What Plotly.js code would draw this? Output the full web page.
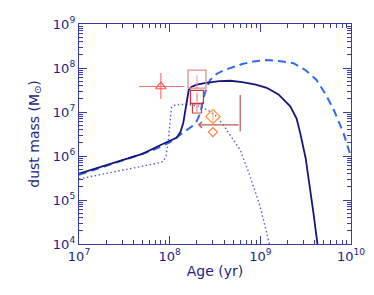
<!DOCTYPE html>
<html>
<head>
<meta charset="utf-8">
<script src="https://cdn.plot.ly/plotly-3.0.1.min.js"></script>
<style>html,body{margin:0;padding:0;background:#fff;}#chart{width:374px;height:295px;}</style>
</head>
<body>
<div id="chart"></div>
<script>
// Model curves: log10(age / yr) and log10(dust mass / Msun)
const solidLogAge  = [7.0, 7.3, 7.5, 7.7, 7.9, 8.0, 8.08, 8.12, 8.15, 8.17, 8.19, 8.21, 8.24, 8.3, 8.4, 8.55, 8.67, 8.8, 8.95, 9.07, 9.2, 9.33, 9.4, 9.44, 9.5, 9.53, 9.586, 9.63];
const solidLogMass = [5.60, 5.80, 5.92, 6.05, 6.25, 6.34, 6.42, 6.55, 6.75, 7.0, 7.28, 7.5, 7.57, 7.62, 7.66, 7.70, 7.71, 7.68, 7.62, 7.55, 7.40, 7.13, 6.85, 6.52, 5.95, 5.54, 4.70, 4.0];

const dashedLogAge  = [7.0, 7.3, 7.6, 7.8, 8.0, 8.15, 8.25, 8.30, 8.34, 8.37, 8.40, 8.447, 8.52, 8.6, 8.667, 8.8, 8.924, 9.07, 9.2, 9.365, 9.5, 9.62, 9.72, 9.81, 9.917, 10.0];
const dashedLogMass = [5.57, 5.78, 5.98, 6.12, 6.31, 6.52, 6.68, 6.80, 6.98, 7.3, 7.5, 7.73, 7.87, 7.95, 8.0, 8.09, 8.15, 8.18, 8.16, 8.11, 7.95, 7.73, 7.40, 7.05, 6.52, 5.98];

const dottedLogAge  = [7.0, 7.3, 7.6, 7.85, 7.93, 7.96, 7.986, 8.005, 8.02, 8.06, 8.1, 8.2, 8.336, 8.43, 8.52, 8.62, 8.70, 8.777, 8.887, 8.998, 9.10];
const dottedLogMass = [5.48, 5.60, 5.72, 5.83, 5.88, 6.0, 6.37, 6.85, 7.1, 7.16, 7.17, 7.17, 7.13, 7.03, 6.90, 6.62, 6.37, 6.14, 5.54, 4.85, 4.0];

// Observations
const triAge = [8e7], triMass = [3.8e7];
const triAgeErrPlus = [6.5e7], triAgeErrMinus = [3.4e7];
const triMassErrPlus = [3.9e7], triMassErrMinus = [1.83e7];

const bigSqAge = [2e8], bigSqMass = [5.6e7], bigSqErrPlus = [1.2e7], bigSqErrMinus = [2.2e7];
const midSqAge = [2e8], midSqMass = [2.2e7], midSqErrPlus = [5e6], midSqErrMinus = [5e6];
const smlSqAge = [2e8], smlSqMass = [1.2e7], smlSqErrPlus = [2e6], smlSqErrMinus = [2e6];

const bigDiaAge = [3e8], bigDiaMass = [7.9e6], bigDiaErrPlus = [2e6], bigDiaErrMinus = [2e6];
const smlDiaAge = [3e8], smlDiaMass = [3.5e6];

const limAge = 6e8, limAgeUpper = 2.05e8, limMass = 5.1e6;
const limBarMass = [2.45e7, 3.6e6];

const xTickVals = [1e7, 1e8, 1e9, 1e10];
const xTickText = ['10<sup>7</sup>', '10<sup>8</sup>', '10<sup>9</sup>', '10<sup>10</sup>'];
const yTickVals = [1e4, 1e5, 1e6, 1e7, 1e8, 1e9];
const yTickText = ['10<sup>4</sup>', '10<sup>5</sup>', '10<sup>6</sup>', '10<sup>7</sup>', '10<sup>8</sup>', '10<sup>9</sup>'];

const pow = a => a.map(v => Math.pow(10, v));
const minorVals = (lo, hi) => { const out = []; for (let e = lo; e < hi; e++) for (let m = 2; m <= 9; m++) out.push(m * Math.pow(10, e)); return out; };
const navy = '#1e1e85';
const axisCol = '#3a3aa8';

const traces = [
  {x: pow(dottedLogAge), y: pow(dottedLogMass), mode: 'lines', line: {color: '#5a5ad0', width: 1.4, dash: '1.5px,2.5px'}},
  {x: pow(dashedLogAge), y: pow(dashedLogMass), mode: 'lines', line: {color: '#2f6af0', width: 2, dash: '8px,5px'}},
  {x: pow(solidLogAge), y: pow(solidLogMass), mode: 'lines', line: {color: '#16167a', width: 1.8}},
  {x: triAge, y: triMass, mode: 'markers',
   marker: {symbol: 'triangle-up-open', size: 9, color: '#ff5555', line: {width: 1.2}},
   error_x: {type: 'data', symmetric: false, array: triAgeErrPlus, arrayminus: triAgeErrMinus, color: '#ff6a6a', thickness: 1.1, width: 0},
   error_y: {type: 'data', symmetric: false, array: triMassErrPlus, arrayminus: triMassErrMinus, color: '#ff6a6a', thickness: 1.1, width: 0}},
  {x: bigSqAge, y: bigSqMass, mode: 'markers',
   marker: {symbol: 'square-open', size: 18, color: '#e08c8c', line: {width: 1.3}},
   error_y: {type: 'data', symmetric: false, array: bigSqErrPlus, arrayminus: bigSqErrMinus, color: '#e59a9a', thickness: 1, width: 0}},
  {x: midSqAge, y: midSqMass, mode: 'markers',
   marker: {symbol: 'square-open', size: 13, color: '#cc3535', line: {width: 1.3}},
   error_y: {type: 'data', symmetric: false, array: midSqErrPlus, arrayminus: midSqErrMinus, color: '#e07070', thickness: 1, width: 0}},
  {x: smlSqAge, y: smlSqMass, mode: 'markers',
   marker: {symbol: 'square-open', size: 9, color: '#cc4040', line: {width: 1.2}},
   error_y: {type: 'data', symmetric: false, array: smlSqErrPlus, arrayminus: smlSqErrMinus, color: '#e07070', thickness: 1, width: 0}},
  {x: bigDiaAge, y: bigDiaMass, mode: 'markers',
   marker: {symbol: 'diamond-open', size: 11, color: '#ff9a40', line: {width: 1.3}},
   error_y: {type: 'data', symmetric: false, array: bigDiaErrPlus, arrayminus: bigDiaErrMinus, color: '#ffa860', thickness: 1, width: 0}},
  {x: smlDiaAge, y: smlDiaMass, mode: 'markers',
   marker: {symbol: 'diamond-open', size: 7, color: '#ff7a3a', line: {width: 1.2}}},
  {x: [limAge, limAge], y: limBarMass, mode: 'lines', line: {color: '#b85a5a', width: 1.2}}
];

const axisCommon = {
  type: 'log', showgrid: false, zeroline: false, showline: true, mirror: 'ticks',
  linecolor: axisCol, linewidth: 1.2, ticks: 'inside', ticklen: 8, tickwidth: 1, tickcolor: axisCol,
  tickfont: {family: 'DejaVu Sans', size: 13, color: navy}
};
const minorCommon = {ticks: 'inside', ticklen: 4, tickwidth: 1, tickcolor: axisCol, showgrid: false, tickmode: 'array'};

const layout = {
  width: 374, height: 295,
  margin: {l: 79, r: 23, t: 24, b: 51},
  paper_bgcolor: '#fff', plot_bgcolor: '#fff',
  showlegend: false,
  xaxis: Object.assign({}, axisCommon, {
    range: [7, 10], tickmode: 'array', tickvals: xTickVals, ticktext: xTickText,
    minor: Object.assign({}, minorCommon, {tickvals: minorVals(7, 10)}),
    title: {text: 'Age (yr)', font: {family: 'DejaVu Sans', size: 14, color: navy}, standoff: 3}
  }),
  yaxis: Object.assign({}, axisCommon, {
    range: [4, 9], tickmode: 'array', tickvals: yTickVals, ticktext: yTickText,
    minor: Object.assign({}, minorCommon, {tickvals: minorVals(4, 9)}),
    title: {text: 'dust mass (M<sub>⊙</sub>)', font: {family: 'DejaVu Sans', size: 14, color: navy}, standoff: 10}
  }),
  annotations: [{
    x: Math.log10(limAgeUpper), y: Math.log10(limMass),
    ax: Math.log10(limAge), ay: Math.log10(limMass),
    xref: 'x', yref: 'y', axref: 'x', ayref: 'y',
    text: '', showarrow: true, arrowhead: 4, arrowsize: 1, arrowwidth: 1.2, arrowcolor: '#b85a5a'
  }]
};

Plotly.newPlot('chart', traces, layout, {displayModeBar: false, staticPlot: true});
</script>
</body>
</html>
